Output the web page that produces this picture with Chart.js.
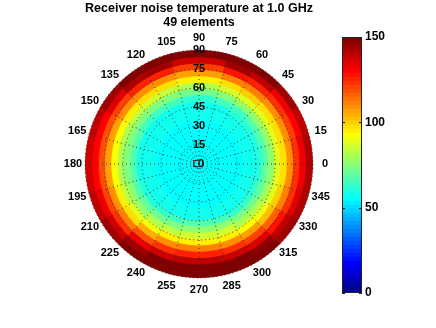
<!DOCTYPE html>
<html>
<head>
<meta charset="utf-8">
<script src="https://cdn.jsdelivr.net/npm/chart.js@4.4.0/dist/chart.umd.min.js"></script>
<style>
  html, body { margin: 0; padding: 0; background: #fff; }
  #wrap { position: relative; width: 436px; height: 328px; }
  #wrap canvas { position: absolute; left: 0; top: 0; }
</style>
</head>
<body>
<div id="wrap">
  <canvas id="heat" width="436" height="328"></canvas>
  <canvas id="grid" width="436" height="328"></canvas>
  <canvas id="cbar" width="436" height="328"></canvas>
</div>
<script>
// azimuth sectors of 15 deg, counter-clockwise from 0 (sector k = k*15 .. k*15+15)
const azimuthLabels = ['0', '15', '30', '45', '60', '75', '90', '105', '120', '135', '150', '165',
  '180', '195', '210', '225', '240', '255', '270', '285', '300', '315', '330', '345'];
const radialMax = 90;
const radialStep = 15;
const cMin = 0, cMax = 150;

// noise temperature (K), rings of 5 deg from the centre outwards
// inner rings 0..45 look flat in azimuth
const innerRings = [55, 55, 55, 55, 55, 56, 56, 57, 58];
// outer rings, one value per azimuth sector
const ring45 = [60, 60, 59, 59, 58, 58, 58, 58, 58, 58, 58, 58, 58, 59, 60, 62, 64, 66, 66, 65, 63, 62, 61, 60];
const ring50 = [67, 66, 66, 65, 64, 63, 63, 64, 65, 65, 66, 66, 66, 67, 69, 71, 74, 76, 76, 75, 73, 71, 69, 68];
const ring55 = [76, 75, 75, 75, 74, 72, 72, 73, 74, 74, 74, 74, 74, 75, 77, 80, 84, 86, 86, 85, 82, 80, 78, 77];
const ring60 = [88, 87, 87, 87, 85, 82, 82, 84, 85, 84, 82, 82, 82, 84, 87, 91, 95, 96, 96, 95, 93, 91, 89, 88];
const ring65 = [98, 97, 98, 99, 98, 94, 94, 97, 97, 95, 93, 92, 92, 94, 98, 104, 110, 112, 112, 110, 106, 102, 99, 98];
const ring70 = [110, 109, 110, 112, 112, 107, 106, 110, 110, 108, 106, 106, 106, 108, 112, 118, 124, 126, 126, 124, 120, 115, 111, 110];
const ring75 = [122, 121, 122, 126, 128, 121, 120, 126, 126, 121, 118, 118, 118, 120, 124, 132, 138, 140, 140, 138, 134, 128, 124, 122];
const ring80 = [132, 131, 133, 140, 145, 138, 138, 144, 141, 134, 131, 131, 131, 132, 136, 145, 148, 148, 148, 148, 146, 140, 134, 132];
const ring85 = [142, 140, 143, 148, 150, 150, 150, 150, 148, 143, 139, 138, 138, 139, 143, 148, 150, 150, 150, 150, 149, 145, 142, 142];

Chart.defaults.font.family = '"Liberation Sans", Arial, Helvetica, sans-serif';
Chart.defaults.color = '#000';

// matlab jet(64)
function jetMap(m) {
  const n = Math.ceil(m / 4);
  const u = [];
  for (let i = 1; i <= n; i++) u.push(i / n);
  for (let i = 1; i < n; i++) u.push(1);
  for (let i = n; i >= 1; i--) u.push(i / n);
  const J = [];
  for (let i = 0; i < m; i++) J.push([0, 0, 0]);
  const g0 = Math.ceil(n / 2) - (m % 4 === 1 ? 1 : 0);
  for (let j = 0; j < u.length; j++) {
    const g = g0 + j + 1, r = g + n, b = g - n;
    if (r <= m) J[r - 1][0] = u[j];
    if (g <= m) J[g - 1][1] = u[j];
    if (b >= 1) J[b - 1][2] = u[j];
  }
  return J.map(c => 'rgb(' + c.map(v => Math.round(v * 255)).join(',') + ')');
}
const jet = jetMap(64);
function colourOf(v) {
  let i = Math.floor((v - cMin) / (cMax - cMin) * jet.length);
  return jet[Math.max(0, Math.min(jet.length - 1, i))];
}

// rings centre -> edge
let rings = innerRings.map(v => azimuthLabels.map(() => v));
rings = rings.concat([ring45, ring50, ring55, ring60, ring65, ring70, ring75, ring80, ring85]);

// doughnut goes clockwise from the top, sector j covers azimuth 90-15j .. 75-15j
const nSec = azimuthLabels.length;
const secOrder = azimuthLabels.map((_, j) => ((5 - j) % nSec + nSec) % nSec);

const heatSets = rings.slice().reverse().map(ring => {
  const cols = secOrder.map(k => colourOf(ring[k]));
  return {
    data: secOrder.map(() => 1),
    backgroundColor: cols,
    borderColor: cols,
    borderWidth: 1,
    hoverBorderWidth: 1,
    hoverOffset: 0
  };
});

// polar disc: centre (199,164), radius 114
new Chart(document.getElementById('heat'), {
  type: 'doughnut',
  data: { labels: secOrder.map(k => azimuthLabels[k]), datasets: heatSets },
  options: {
    responsive: false,
    animation: false,
    events: [],
    cutout: 0,
    layout: { padding: { left: 85, right: 123, top: 50, bottom: 50 } },
    plugins: { legend: { display: false }, tooltip: { enabled: false } }
  }
});

// polar grid + labels, clockwise from top
const gridLabels = azimuthLabels.map((_, i) => azimuthLabels[((6 - i) % nSec + nSec) % nSec]);

const angleLabels = {
  id: 'angleLabels',
  afterDraw(chart) {
    const r = chart.scales.r;
    const ctx = chart.ctx;
    ctx.save();
    ctx.font = 'bold 11px "Liberation Sans", Arial, sans-serif';
    ctx.fillStyle = '#000';
    ctx.textAlign = 'center';
    ctx.textBaseline = 'middle';
    chart.data.labels.forEach((lab, i) => {
      const p = r.getPointPosition(i, r.drawingArea + 12);
      ctx.fillText(lab, p.x, p.y);
    });
    // radial tick at the centre is skipped by the scale
    ctx.fillText('0', r.xCenter + 2, r.yCenter);
    ctx.strokeStyle = '#333';
    ctx.strokeRect(r.xCenter - 5.5, r.yCenter - 3.5, 6, 6);
    ctx.restore();
  }
};

// the radial scale keeps 7.5px on each side for the tick backdrop, so the area is 243 square
new Chart(document.getElementById('grid'), {
  type: 'radar',
  data: { labels: gridLabels, datasets: [{ data: [], pointRadius: 0, borderWidth: 0 }] },
  options: {
    responsive: false,
    animation: false,
    events: [],
    layout: { padding: { left: 77.5, right: 115.5, top: 0, bottom: 42.5 } },
    plugins: {
      legend: { display: false },
      tooltip: { enabled: false },
      title: {
        display: true,
        text: ['Receiver noise temperature at 1.0 GHz', '49 elements'],
        color: '#000',
        font: { size: 12.5, weight: 'bold', lineHeight: 1.08 },
        padding: { top: 2, bottom: 13.5 }
      }
    },
    scales: {
      r: {
        min: 0,
        max: radialMax,
        ticks: {
          stepSize: radialStep,
          color: '#000',
          font: { size: 11, weight: 'bold' },
          showLabelBackdrop: false,
          z: 1
        },
        pointLabels: { display: false },
        grid: { circular: true, color: '#333', lineWidth: 1, borderDash: [1, 3] },
        border: { dash: [1, 3] },
        angleLines: { color: '#333', lineWidth: 1, borderDash: [1, 3] }
      }
    }
  },
  plugins: [angleLabels]
});

// colour bar
const frame = {
  id: 'frame',
  afterDraw(chart) {
    const a = chart.chartArea, ctx = chart.ctx;
    const y = chart.scales.y;
    ctx.save();
    ctx.strokeStyle = '#222';
    ctx.lineWidth = 1;
    ctx.strokeRect(a.left + 0.5, a.top + 0.5, a.right - a.left - 1, a.bottom - a.top - 1);
    // matlab-style inward tick marks
    ctx.beginPath();
    y.ticks.forEach(t => {
      const py = Math.round(y.getPixelForValue(t.value)) + 0.5;
      ctx.moveTo(a.left, py); ctx.lineTo(a.left + 3, py);
      ctx.moveTo(a.right - 3, py); ctx.lineTo(a.right, py);
    });
    ctx.stroke();
    ctx.restore();
  }
};

const cbarSets = jet.map(c => ({
  data: [(cMax - cMin) / jet.length],
  backgroundColor: c,
  borderWidth: 0,
  barPercentage: 1,
  categoryPercentage: 1
}));

new Chart(document.getElementById('cbar'), {
  type: 'bar',
  data: { labels: [''], datasets: cbarSets },
  options: {
    responsive: false,
    animation: false,
    events: [],
    layout: { padding: { left: 342, right: 30, top: 37, bottom: 35 } },
    plugins: { legend: { display: false }, tooltip: { enabled: false } },
    scales: {
      x: { display: false, stacked: true },
      y: {
        position: 'right',
        stacked: true,
        min: cMin,
        max: cMax,
        ticks: { stepSize: 50, padding: 3, font: { size: 12, weight: 'bold' } },
        grid: { display: false, drawTicks: false },
        border: { display: false },
        afterFit(s) { s.width = 44; }
      }
    }
  },
  plugins: [frame]
});
</script>
</body>
</html>
